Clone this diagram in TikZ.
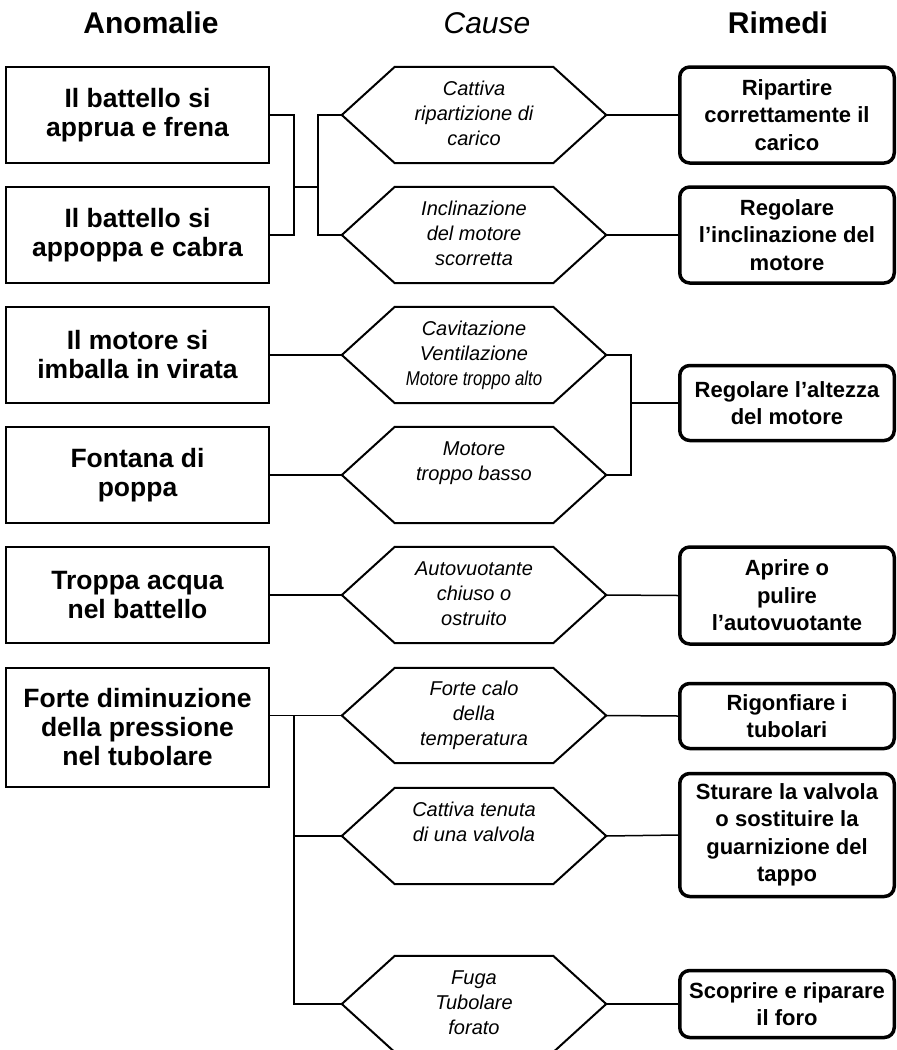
\documentclass[tikz,border=0pt]{standalone}
\usepackage{fontspec}
\setmainfont{Liberation Sans}
\usepackage{graphicx}
\begin{document}
\begin{tikzpicture}[x=1pt,y=-1pt,
  anom/.style={draw, line width=2pt, minimum width=263pt, minimum height=96pt, inner sep=0pt, align=center, font=\bfseries\fontsize{26.5}{29}\selectfont},
  rim/.style={draw, line width=3.5pt, rounded corners=10pt, minimum width=214.5pt, inner sep=0pt, align=center, font=\bfseries\fontsize{22}{27.5}\selectfont},
  hexn/.style={minimum width=264pt, minimum height=96pt, inner sep=0pt, align=center, font=\itshape\fontsize{20}{25}\selectfont},
  hexline/.style={line width=2pt, line join=miter},
  conn/.style={line width=1.5pt},
  head/.style={anchor=base}]
\useasboundingbox (0,0) rectangle (897,1050);
\clip (0,0) rectangle (897,1050);

% headers
\node[head, font=\bfseries\fontsize{30}{36}\selectfont] (hA) at (151,33) {Anomalie};
\node[head, font=\itshape\fontsize{30}{36}\selectfont] (hC) at (487,33) {Cause};
\node[head, font=\bfseries\fontsize{30}{36}\selectfont] (hR) at (778,33) {Rimedi};

% anomalie
\node[anom] (L1) at (137.5,115) {Il battello si\\apprua e frena};
\node[anom] (L2) at (137.5,235) {Il battello si\\appoppa e cabra};
\node[anom] (L3) at (137.5,355) {Il motore si\\imballa in virata};
\node[anom] (L4) at (137.5,475) {Fontana di\\poppa};
\node[anom] (L5) at (137.5,595) {Troppa acqua\\nel battello};
\node[anom, minimum height=119pt] (L6) at (137.5,727.5) {Forte diminuzione\\della pressione\\nel tubolare};

% cause
\node[hexn] (H1) at (474,115) {\strut Cattiva\\ripartizione di\\carico\strut};
\node[hexn] (H2) at (474,235) {\strut Inclinazione\\del motore\\scorretta\strut};
\node[hexn] (H3) at (474,355) {\strut Cavitazione\\Ventilazione\\\scalebox{0.84}[1]{Motore troppo alto}\strut};
\node[hexn] (H4) at (474,475) {\strut Motore\\troppo basso\\\strut};
\node[hexn] (H5) at (474,595) {\strut Autovuotante\\chiuso o\\ostruito\strut};
\node[hexn, minimum height=95pt] (H6) at (474,715.5) {\strut Forte calo\\della\\temperatura\strut};
\node[hexn] (H7) at (474,836) {\strut Cattiva tenuta\\di una valvola\\\strut};
\node[hexn] (H8) at (474,1004) {\strut Fuga\\Tubolare\\forato\strut};
\foreach \n in {H1,H2,H3,H4,H5,H6,H7,H8}{
  \draw[hexline] ([xshift=53pt]\n.north west) -- ([xshift=-53pt]\n.north east) -- (\n.east)
    -- ([xshift=-53pt]\n.south east) -- ([xshift=53pt]\n.south west) -- (\n.west) -- cycle;
}

% rimedi
\node[rim, minimum height=96pt] (R1) at (787,115) {Ripartire\\correttamente il\\carico};
\node[rim, minimum height=96pt] (R2) at (787,235) {Regolare\\l’inclinazione del\\motore};
\node[rim, minimum height=75pt] (R3) at (787,403) {Regolare l’altezza\\del motore};
\node[rim, minimum height=97pt] (R4) at (787,595.5) {Aprire o\\pulire\\l’autovuotante};
\node[rim, minimum height=65pt] (R5) at (787,716) {Rigonfiare i\\tubolari};
\node[rim, minimum height=123pt] (R6) at (787,835) {Sturare la valvola\\o sostituire la\\guarnizione del\\tappo};
\node[rim, minimum height=67pt] (R7) at (787,1004) {Scoprire e riparare\\il foro};

% junction coordinates
\coordinate (j1) at (294,187);
\coordinate (j2) at (318,187);
\coordinate (j3) at (631,403);
\coordinate (j4) at (294,716);

% connectors group 1
\draw[conn] (L1.east) -| (j1) |- (L2.east);
\draw[conn] (j1) -- (j2);
\draw[conn] (H1.west) -| (j2) |- (H2.west);
\draw[conn] (H1.east) -- (R1.west);
\draw[conn] (H2.east) -- (R2.west);

% group 2
\draw[conn] (L3.east) -- (H3.west);
\draw[conn] (L4.east) -- (H4.west);
\draw[conn] (H3.east) -| (j3) |- (H4.east);
\draw[conn] (j3) -- (R3.west);

% group 3
\draw[conn] (L5.east) -- (H5.west);
\draw[conn] (H5.east) -- (R4.west);

% group 4
\draw[conn] (L6.east |- H6.west) -- (H6.west);
\draw[conn] (j4) |- (H8.west);
\draw[conn] (j4 |- H7.west) -- (H7.west);
\draw[conn] (H6.east) -- (R5.west);
\draw[conn] (H7.east) -- (R6.west);
\draw[conn] (H8.east) -- (R7.west);
\end{tikzpicture}
\end{document}
